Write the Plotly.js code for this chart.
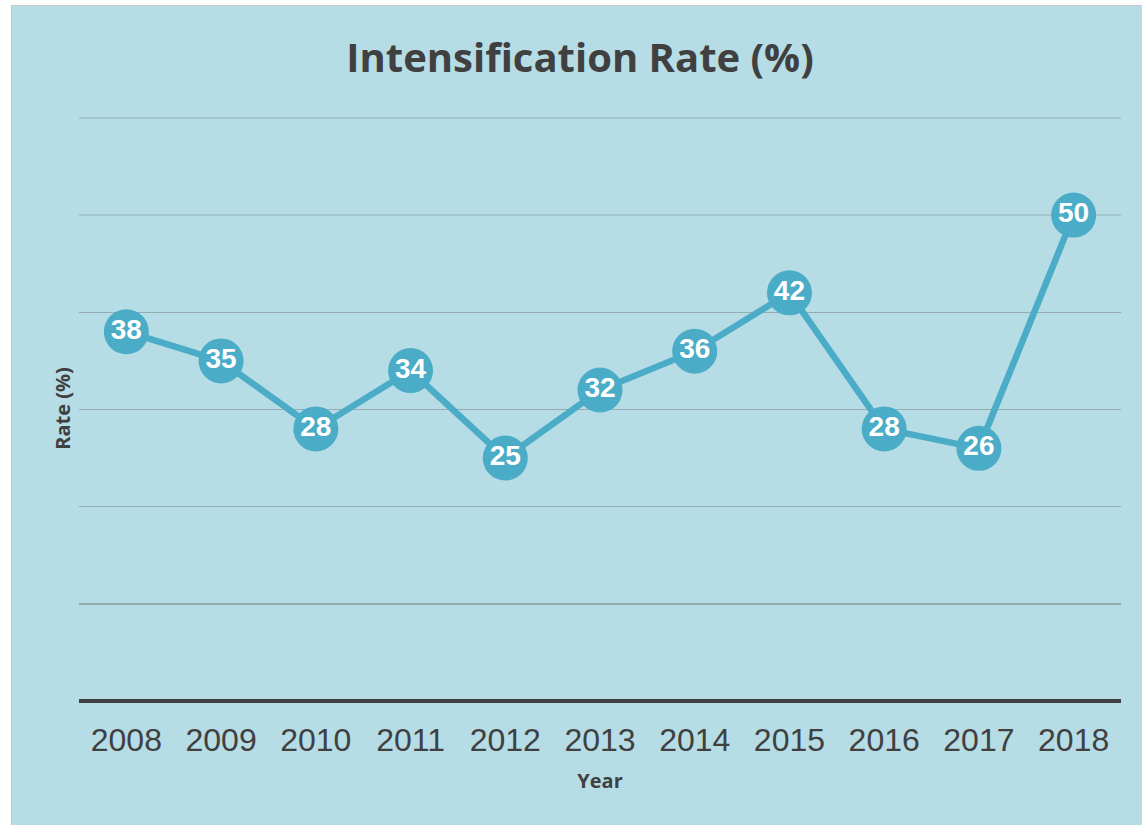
<!DOCTYPE html>
<html>
<head>
<meta charset="utf-8">
<script src="https://cdn.plot.ly/plotly-3.0.1.min.js"></script>
<style>
  html, body { margin: 0; padding: 0; background: #ffffff; width: 1142px; height: 825px; overflow: hidden; }
  #chart { position: absolute; left: 11px; top: 5px; width: 1131px; height: 820px; border: 1px solid #c8c8c8; border-right: none; border-bottom: none; }
</style>
</head>
<body>
<div id="chart"></div>
<script>
const years = ["2008","2009","2010","2011","2012","2013","2014","2015","2016","2017","2018"];
const rates = [38, 35, 28, 34, 25, 32, 36, 42, 28, 26, 50];
const darkGridVals = [10, 20, 30, 40];
const lightGridVals = [50, 60];

const W = 1131, H = 820;
const lineColor = "#4aacc6";

const trace = {
  x: years,
  y: rates,
  type: "scatter",
  mode: "lines+markers+text",
  line: { color: lineColor, width: 6.5 },
  marker: { color: lineColor, size: 45, line: { width: 0 } },
  text: rates.map(String),
  textposition: "middle center",
  textfont: { family: "Liberation Sans, Arial, sans-serif", size: 28, color: "#ffffff", weight: "bold" },
  cliponaxis: false,
  hoverinfo: "x+y",
  showlegend: false
};

// invisible trace on overlaying axis to carry the lighter gridlines
const gridTrace = {
  x: years, y: rates, yaxis: "y2", type: "scatter", mode: "none",
  hoverinfo: "skip", showlegend: false
};

const yRange = [0, 60.2];

const layout = {
  width: W, height: H,
  paper_bgcolor: "#b6dce6",
  plot_bgcolor: "#b6dce6",
  margin: { l: 67, r: 22, t: 110, b: 125 },
  title: {
    text: "<b>Intensification Rate (%)</b>",
    font: { family: "Open Sans, sans-serif", size: 40, color: "#404040" },
    x: 568 / W, xref: "container", xanchor: "center",
    y: 1 - 52 / H, yref: "container", yanchor: "middle"
  },
  xaxis: {
    type: "category",
    range: [-0.5, years.length - 0.5],
    showgrid: false,
    zeroline: false,
    showline: false,
    ticks: "",
    tickfont: { family: "Liberation Sans, Arial, sans-serif", size: 32, color: "#404040" },
    ticklabelstandoff: 17,
    title: {
      text: "<b>Year</b>",
      font: { family: "Open Sans, sans-serif", size: 20, color: "#404040" },
      standoff: 16
    },
    fixedrange: true
  },
  yaxis: {
    range: yRange,
    tickvals: darkGridVals,
    showticklabels: false,
    showgrid: true,
    gridcolor: "#94abb1",
    gridwidth: 1.5,
    zeroline: true,
    zerolinecolor: "#404040",
    zerolinewidth: 3.5,
    showline: false,
    ticks: "",
    title: {
      text: "<b>Rate (%)</b>",
      font: { family: "Open Sans, sans-serif", size: 20, color: "#404040" },
      standoff: 2
    },
    fixedrange: true
  },
  yaxis2: {
    overlaying: "y",
    range: yRange,
    tickvals: lightGridVals,
    showticklabels: false,
    showgrid: true,
    gridcolor: "#a6c6ce",
    gridwidth: 1.5,
    zeroline: false,
    showline: false,
    ticks: "",
    fixedrange: true
  }
};

Plotly.newPlot("chart", [gridTrace, trace], layout, { displayModeBar: false, staticPlot: true });
</script>
</body>
</html>
